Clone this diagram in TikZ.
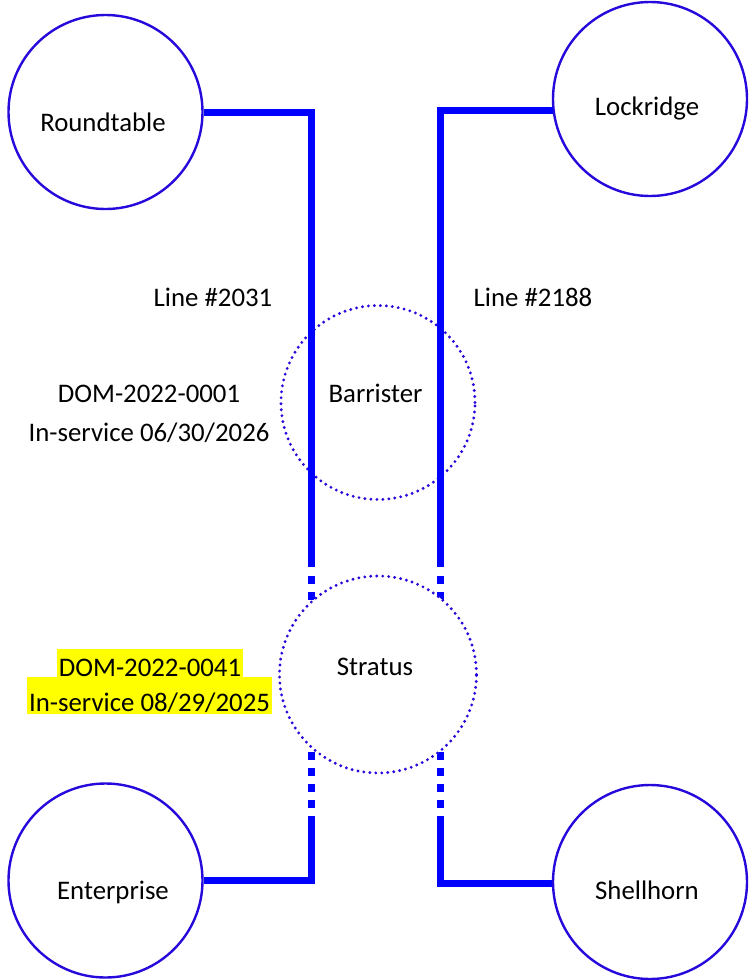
\documentclass[tikz,border=0pt]{standalone}
\usepackage{fontspec}
\setmainfont{Carlito}
\usepackage{tikz}
\usetikzlibrary{positioning,calc}
\definecolor{siteblue}{RGB}{38,10,220}
\definecolor{lineblue}{RGB}{0,0,255}
\definecolor{markyellow}{RGB}{255,255,0}

\begin{document}
\begin{tikzpicture}[
        x=0.5pt, y=-0.5pt,
        site/.style={circle, draw=siteblue, line width=1.2pt, minimum size=97pt, inner sep=0pt},
        hub/.style={circle, draw=siteblue, line width=1.6pt, dash pattern=on 0pt off 3pt, line cap=round, inner sep=0pt},
        feed/.style={draw=lineblue, line width=3.5pt},
        tap/.style={feed, dash pattern=on 4pt off 4pt},
        lbl/.style={anchor=base, inner sep=0pt, font=\fontsize{13.4}{16}\selectfont},
        hl/.style={lbl, fill=markyellow, inner xsep=1.1pt, inner ysep=0pt}
    ]
        \useasboundingbox (0,0) rectangle (750,980);

        % Substations
        \node[site] (round) at (105.5,112) {};
        \node[site] (lock) at (650,99) {};
        \node[site] (ent) at (105.5,880.5) {};
        \node[site] (shell) at (650,882) {};

        % Barrister (proposed)
        \node[hub, minimum size=97pt] (barr) at (378,402.5) {};

        % Line #2031
        \coordinate (a1) at (311.5,567);
        \coordinate (a2) at (311.5,576);
        \coordinate (a3) at (311.5,808);
        \coordinate (a4) at (311.5,816);
        \draw[feed] (round.east) -| (a1);
        \draw[tap] (a2) -- (a3);
        \draw[feed] (a4) |- (ent.east);

        % Line #2188
        \coordinate (b1) at (440,567);
        \coordinate (b2) at (440,576);
        \coordinate (b3) at (440,808);
        \coordinate (b4) at (440,816);
        \draw[feed] (lock.187.6) -| (b1);
        \draw[tap] (b2) -- (b3);
        \draw[feed] (b4) |- (shell.181);

        % Stratus (covers the taps)
        \node[hub, fill=white, minimum size=98.5pt] (strat) at (378,674.5) {};

        % Labels
        \node[lbl] (roundtxt) at (103,131.5) {Roundtable};
        \node[lbl] (locktxt) at (647,115.5) {Lockridge};
        \node[lbl] (enttxt) at (113,899) {Enterprise};
        \node[lbl] (shelltxt) at (647,899) {Shellhorn};
        \node[lbl] (barrtxt) at (375.5,402.7) {Barrister};
        \node[lbl] (strattxt) at (375,675) {Stratus};
        \node[lbl] (line1) at (213,306.7) {Line \#2031};
        \node[lbl] (line2) at (533,306.7) {Line \#2188};
        \node[lbl] (dom1) at (149,402.7) {DOM-2022-0001};
        \node[lbl] (isd1) at (149,441.5) {In-service 06/30/2026};

        % Highlighted project
        \node[hl, text height=13.5pt, text depth=0.5pt] (dom2) at (150,676) {DOM-2022-0041};
        \node[hl, text height=17.5pt, text depth=1pt] (isd2) at (149.5,711.5) {In-service 08/29/2025};

    \end{tikzpicture}
\end{document}
